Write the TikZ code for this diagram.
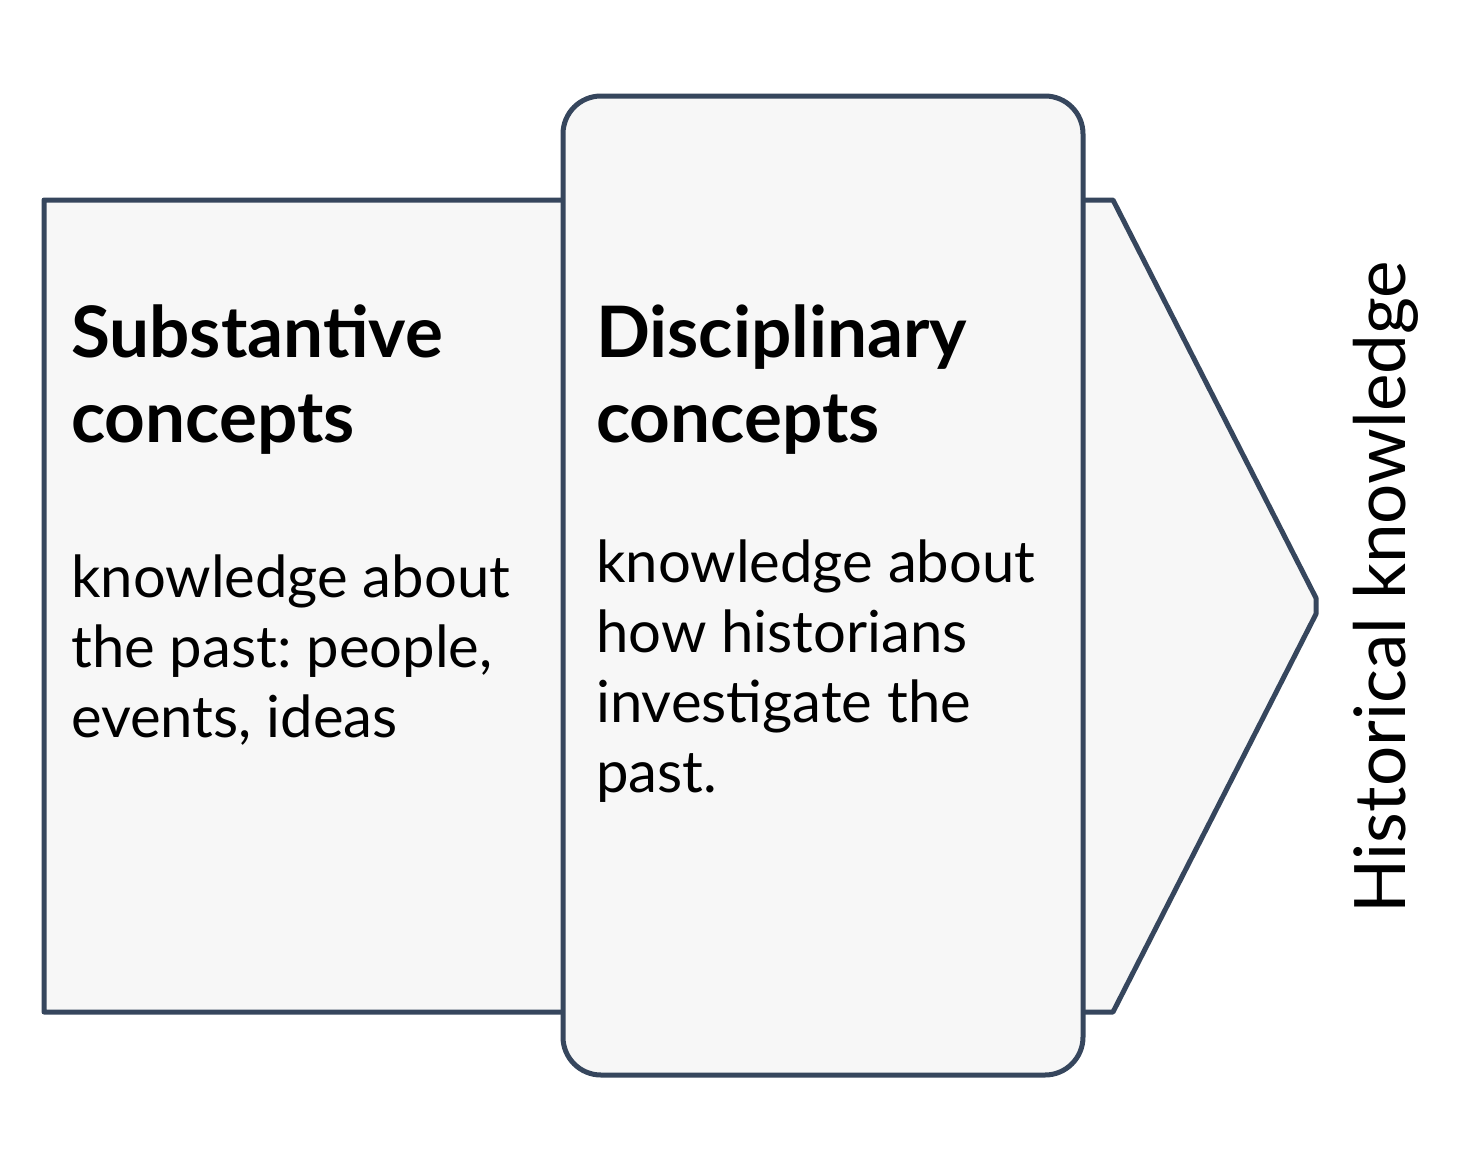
\documentclass[tikz,border=0pt]{standalone}
\usepackage{fontspec}
\setmainfont{Lato}
\frenchspacing
\definecolor{edge}{HTML}{36465D}
\definecolor{panel}{HTML}{F7F7F7}
\begin{document}
\begin{tikzpicture}[x=1pt,y=-1pt,
  shapeline/.style={draw=edge,line width=5pt,fill=panel,line join=round},
  titletext/.style={anchor=base west,inner sep=0pt,align=left,font=\fontsize{71}{85}\selectfont\bfseries},
  bodytext/.style={anchor=base west,inner sep=0pt,align=left,font=\fontsize{58}{70}\selectfont}]
\useasboundingbox (0,0) rectangle (1459,1172);
\fill[white] (0,0) rectangle (1459,1172);
\draw[shapeline] (44,200) -- (1113,200) -- (1316,598) -- (1316,614) -- (1113,1012) -- (44,1012) -- cycle;
\draw[shapeline,rounded corners=38pt] (563,96) rectangle (1083,1075);
\node[titletext] (subt) at (71,442) {Substantive\\concepts};
\node[bodytext] (subb) at (71,737) {knowledge about\\the past: people,\\events, ideas};
\node[titletext] (dist) at (596,442) {Disciplinary\\concepts};
\node[bodytext] (disb) at (596,792) {knowledge about\\how historians\\investigate the\\past.};
\node[anchor=base west,inner sep=0pt,rotate=90,font=\fontsize{71}{85}\selectfont] (hist) at (1405,914) {Historical knowledge};
\end{tikzpicture}
\end{document}
